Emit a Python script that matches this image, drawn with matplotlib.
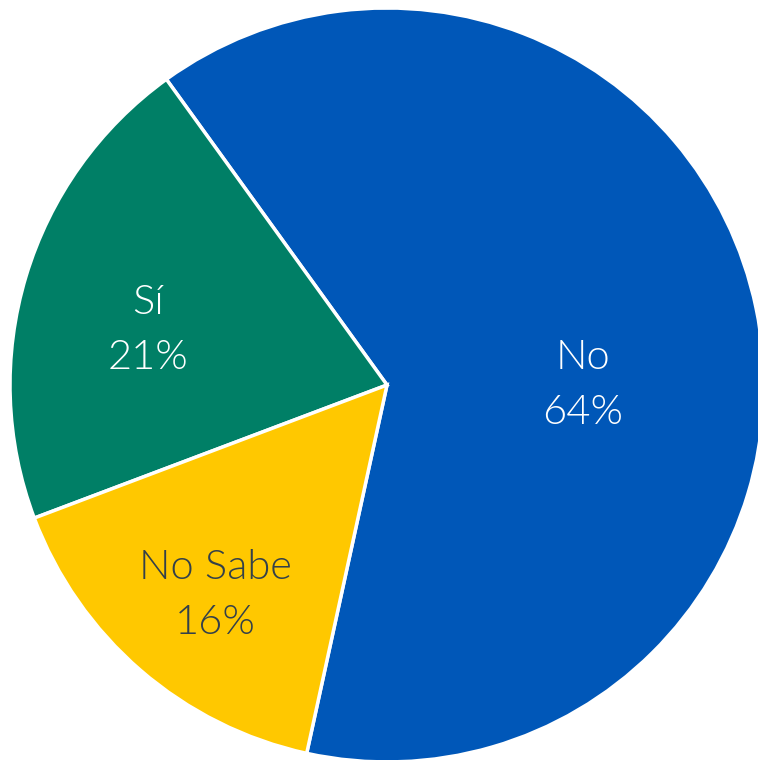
import numpy as np
import matplotlib.pyplot as plt
from matplotlib import font_manager

# data
labels = ['No', 'Sí', 'No Sabe']
values = [64, 21, 16]
colors = ['#0057B8', '#007F66', '#FFC800']
text_colors = ['white', 'white', '#33404A']

# label placement (radius fraction, angle in degrees)
label_pos = [(0.52, 0.0), (0.65, 167.0), (0.72, 230.8)]

names = {f.name for f in font_manager.fontManager.ttflist}
family = 'Lato' if 'Lato' in names else 'DejaVu Sans'

fig = plt.figure(figsize=(7.58, 7.60), dpi=100)
ax = fig.add_axes([0, 0, 1, 1])

r = 377.0
cx, cy = 387.0, 385.0
wedges, _ = ax.pie(values, colors=colors, startangle=257.7, counterclock=True,
                   radius=1, center=(0, 0),
                   wedgeprops=dict(edgecolor='white', linewidth=2.5))

for (lab, val, tc, (rr, ang)) in zip(labels, values, text_colors, label_pos):
    a = np.deg2rad(ang)
    ax.text(rr*np.cos(a), rr*np.sin(a), f'{lab}\n{val}%', ha='center', va='center',
            color=tc, fontsize=30, family=family, fontweight=300, linespacing=1.6)

ax.set_xlim(-cx/r, (758-cx)/r)
ax.set_ylim(-(760-cy)/r, cy/r)
ax.set_aspect('equal')
ax.axis('off')

plt.savefig('out.png', dpi=100)
